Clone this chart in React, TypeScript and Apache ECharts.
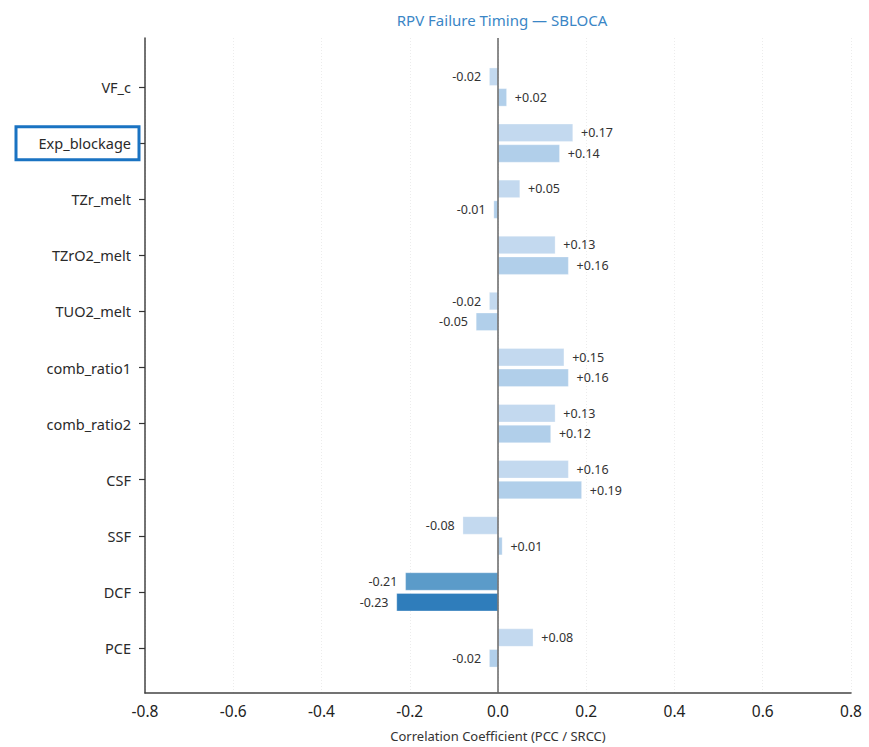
import React, { useEffect, useRef } from "react";
import * as echarts from "echarts";

const categories = [
  "VF_c",
  "Exp_blockage",
  "TZr_melt",
  "TZrO2_melt",
  "TUO2_melt",
  "comb_ratio1",
  "comb_ratio2",
  "CSF",
  "SSF",
  "DCF",
  "PCE",
];
const pccValues = [-0.02, 0.17, 0.05, 0.13, -0.02, 0.15, 0.13, 0.16, -0.08, -0.21, 0.08];
const srccValues = [0.02, 0.14, -0.01, 0.16, -0.05, 0.16, 0.12, 0.19, 0.01, -0.23, -0.02];
const xTicks = [-0.8, -0.6, -0.4, -0.2, 0.0, 0.2, 0.4, 0.6, 0.8];
const highlighted = "Exp_blockage";

const FONT = "'Noto Sans', 'Noto Sans CJK KR', sans-serif";

function fmt(v: number) {
  return (v > 0 ? "+" : "") + v.toFixed(2);
}

function barData(vals: number[], light: string, dark: string) {
  return vals.map((v) => ({
    value: v,
    itemStyle: { color: Math.abs(v) >= 0.2 ? dark : light },
    label: { position: v >= 0 ? "right" : "left" },
  }));
}

export default function App() {
  const ref = useRef<HTMLDivElement>(null);
  useEffect(() => {
    if (!ref.current) return;
    const chart = echarts.init(ref.current, undefined, { renderer: "svg" });
    const barLabel = {
      show: true,
      distance: 8,
      fontSize: 12.5,
      fontFamily: FONT,
      color: "#333",
      formatter: (p: any) => fmt(p.value),
    };
    chart.setOption({
      animation: false,
      backgroundColor: "#ffffff",
      title: {
        text: "RPV Failure Timing — SBLOCA",
        left: 497,
        top: 7,
        textAlign: "center",
        textStyle: { color: "#3a86c6", fontSize: 15, fontWeight: "normal", fontFamily: FONT },
      },
      grid: [
        { left: 145, right: 18, top: 59, bottom: 71, containLabel: false },
        { left: 145, right: 18, top: 38, bottom: 50, containLabel: false },
      ],
      xAxis: [
        {
          type: "value",
          gridIndex: 0,
          min: -0.8,
          max: 0.8,
          interval: 0.2,
          show: false,
        },
        {
          type: "value",
          gridIndex: 1,
          min: -0.8,
          max: 0.8,
          interval: 0.2,
          name: "Correlation Coefficient (PCC / SRCC)",
          nameLocation: "middle",
          nameGap: 36,
          nameTextStyle: { fontSize: 13, color: "#333", fontFamily: FONT },
          axisLine: { show: true, onZero: false, lineStyle: { color: "#444", width: 1.5 } },
          axisTick: { show: false },
          axisLabel: {
            fontSize: 15.5,
            color: "#222",
            margin: 10,
            fontFamily: FONT,
            formatter: (v: number) => {
              const t = xTicks.find((x) => Math.abs(x - v) < 1e-6);
              return (t === undefined ? v : t).toFixed(1);
            },
          },
          splitLine: { show: true, lineStyle: { color: "#ececec", type: [1, 2], width: 1 } },
        },
      ],
      yAxis: [
        {
          type: "category",
          gridIndex: 0,
          data: categories,
          inverse: true,
          axisLine: { show: false, onZero: false },
          axisTick: { show: true, length: 6, alignWithLabel: true, lineStyle: { color: "#333", width: 1.2 } },
          axisLabel: { fontSize: 14.5, color: "#2a2a2a", margin: 14, fontFamily: FONT },
          splitLine: { show: false },
        },
        {
          type: "value",
          gridIndex: 1,
          min: 0,
          max: 1,
          axisLine: { show: true, onZero: false, lineStyle: { color: "#444", width: 1.5 } },
          axisTick: { show: false },
          axisLabel: { show: false },
          splitLine: { show: false },
        },
      ],
      series: [
        {
          name: "PCC",
          type: "bar",
          xAxisIndex: 0,
          yAxisIndex: 0,
          barWidth: 18,
          barGap: "15%",
          data: barData(pccValues, "#c3d9ef", "#5b9bc9"),
          itemStyle: { borderColor: "rgba(255,255,255,0.6)", borderWidth: 0.5 },
          label: barLabel,
        },
        {
          name: "SRCC",
          type: "bar",
          xAxisIndex: 0,
          yAxisIndex: 0,
          barWidth: 18,
          barGap: "15%",
          data: barData(srccValues, "#b1cfea", "#2f7dbb"),
          itemStyle: { borderColor: "rgba(255,255,255,0.6)", borderWidth: 0.5 },
          label: barLabel,
        },
        {
          name: "zero",
          type: "line",
          xAxisIndex: 1,
          yAxisIndex: 1,
          data: [
            [0, 0],
            [0, 1],
          ],
          symbol: "none",
          silent: true,
          lineStyle: { color: "#666", width: 1.5 },
          z: 5,
        },
      ],
    });
    const yc = chart.convertToPixel({ yAxisIndex: 0 }, highlighted) as number;
    chart.setOption({
      graphic: [
        {
          type: "rect",
          shape: { x: 16, y: yc - 16.5, width: 123, height: 33 },
          style: { fill: "none", stroke: "#1a73c2", lineWidth: 3 },
          z: 10,
        },
      ],
    });
    return () => chart.dispose();
  }, []);
  return (
    <div
      ref={ref}
      style={{ position: "fixed", left: 0, top: 0, width: 869, height: 747 }}
    />
  );
}
